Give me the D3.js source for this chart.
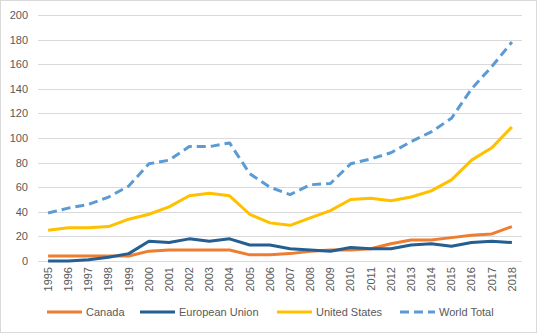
<!DOCTYPE html>
<html>
<head>
<meta charset="utf-8">
<script src="https://cdn.jsdelivr.net/npm/d3@7"></script>
<style>
  body { margin: 0; background: #fff; }
  svg { display: block; font-family: "Liberation Sans", Arial, sans-serif; }
</style>
</head>
<body>
<div id="chart"></div>
<script>
// Data
var years = ["1995","1996","1997","1998","1999","2000","2001","2002","2003","2004","2005","2006",
             "2007","2008","2009","2010","2011","2012","2013","2014","2015","2016","2017","2018"];
var canada = [4,4,4,4,4,8,9,9,9,9,5,5,6,8,9,9,10,14,17,17,19,21,22,28];
var eu     = [0,0,1,3,6,16,15,18,16,18,13,13,10,9,8,11,10,10,13,14,12,15,16,15];
var us     = [25,27,27,28,34,38,44,53,55,53,38,31,29,35,41,50,51,49,52,57,66,82,92,109];
var world  = [39,43,46,52,61,79,82,93,93,96,71,60,54,62,63,79,83,88,97,105,116,140,158,178];
var yTicks = [0,20,40,60,80,100,120,140,160,180,200];

var series = [
  {name: "Canada", values: canada, color: "#ED7D31", dash: null},
  {name: "European Union", values: eu, color: "#255E91", dash: null},
  {name: "United States", values: us, color: "#FFC000", dash: null},
  {name: "World Total", values: world, color: "#5B9BD5", dash: "9,5"}
];

// Chart config
var W = 537, H = 333;
var margin = {top: 15, right: 15, bottom: 72, left: 38};
var width = W - margin.left - margin.right,
    height = H - margin.top - margin.bottom;

var svg = d3.select("#chart").append("svg")
    .attr("width", W).attr("height", H);

// chart border
svg.append("rect")
    .attr("x", 0.5).attr("y", 0.5)
    .attr("width", W - 1).attr("height", H - 1)
    .attr("fill", "#fff").attr("stroke", "#D9D9D9");

var g = svg.append("g")
    .attr("transform", "translate(" + margin.left + "," + margin.top + ")");

var x = d3.scaleBand().domain(years).range([0, width]);
var y = d3.scaleLinear().domain([0, 200]).range([height, 0]);

// gridlines
g.selectAll(".grid").data(yTicks).enter().append("line")
    .attr("x1", 0).attr("x2", width)
    .attr("y1", function(d) { return Math.round(y(d)) + 0.5; })
    .attr("y2", function(d) { return Math.round(y(d)) + 0.5; })
    .attr("stroke", "#D9D9D9").attr("stroke-width", 1);

// y axis labels
var yAxis = d3.axisLeft(y).tickValues(yTicks).tickSize(0).tickPadding(10);
g.append("g").call(yAxis)
    .call(function(s) { s.select(".domain").remove(); })
    .selectAll("text")
    .attr("fill", "#595959").style("font-size", "11px");

// x axis labels, rotated
var xAxis = d3.axisBottom(x).tickSize(0).tickPadding(0);
var xAxisEl = g.append("g").attr("transform", "translate(0," + height + ")").call(xAxis);
xAxisEl.select(".domain").remove();
xAxisEl.selectAll("text")
    .attr("fill", "#595959").style("font-size", "11px")
    .attr("transform", "rotate(-90)")
    .attr("text-anchor", "end")
    .attr("x", -6).attr("y", 0).attr("dy", "0.35em");

// lines
var line = d3.line()
    .x(function(d, i) { return x(years[i]) + x.bandwidth() / 2; })
    .y(function(d) { return y(d); });

series.forEach(function(s) {
  g.append("path").datum(s.values)
      .attr("d", line)
      .attr("fill", "none")
      .attr("stroke", s.color)
      .attr("stroke-width", 3)
      .attr("stroke-linejoin", "round")
      .attr("stroke-dasharray", s.dash);
});

// legend
var legendX = [47, 140, 277, 400];
var legend = svg.append("g").attr("transform", "translate(0,312)");
series.forEach(function(s, i) {
  var item = legend.append("g").attr("transform", "translate(" + legendX[i] + ",0)");
  item.append("line")
      .attr("x1", 0).attr("x2", 35).attr("y1", 0).attr("y2", 0)
      .attr("stroke", s.color).attr("stroke-width", 3)
      .attr("stroke-dasharray", s.dash);
  item.append("text")
      .attr("x", 39).attr("y", 0).attr("dy", "0.35em")
      .attr("fill", "#595959").style("font-size", "11px")
      .text(s.name);
});
</script>
</body>
</html>
